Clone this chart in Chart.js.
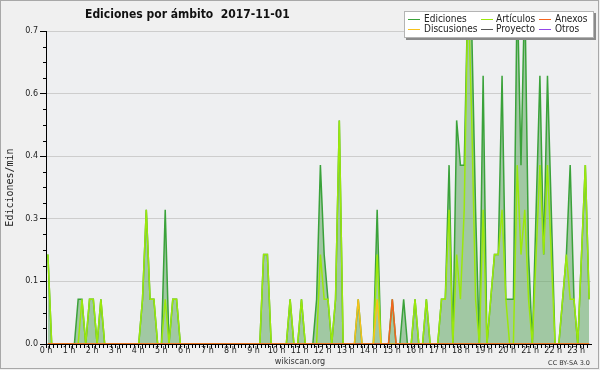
<!DOCTYPE html>
<html>
<head>
<meta charset="utf-8">
<title>Ediciones por ámbito 2017-11-01</title>
<script src="https://cdn.jsdelivr.net/npm/chart.js@4.4.1/dist/chart.umd.min.js"></script>
<style>
    html, body { margin: 0; padding: 0; background: #f0f0f0; }
    #wrap { width: 600px; height: 370px; }
</style>
</head>
<body>
<div id="wrap"><canvas id="myChart" width="600" height="370"></canvas></div>
<script>
// franjas de 10 minutos (minuto de inicio)
const slots = [];
for (let m = 0; m < 24 * 60; m += 10) slots.push(m);

const hourLabels = ['0 h', '1 h', '2 h', '3 h', '4 h', '5 h', '6 h', '7 h', '8 h', '9 h', '10 h', '11 h',
    '12 h', '13 h', '14 h', '15 h', '16 h', '17 h', '18 h', '19 h', '20 h', '21 h', '22 h', '23 h'];
const yTickValues = [0, 0.14, 0.28, 0.42, 0.56, 0.7];
const yTickLabels = ['0.0', '0.1', '0.3', '0.4', '0.6', '0.7'];

const chartTitle = 'Ediciones por ámbito  2017-11-01';
const yTitle = 'Ediciones/min';

// ediciones por minuto, una fila = 2 horas
const ediciones = [
    0.2, 0, 0, 0, 0, 0, 0, 0, 0.1, 0.1, 0, 0.1,
    0.1, 0, 0.1, 0, 0, 0, 0, 0, 0, 0, 0, 0,
    0, 0.1, 0.3, 0.1, 0.1, 0, 0, 0.3, 0, 0.1, 0.1, 0,
    0, 0, 0, 0, 0, 0, 0, 0, 0, 0, 0, 0,
    0, 0, 0, 0, 0, 0, 0, 0, 0, 0.2, 0.2, 0,
    0, 0, 0, 0, 0.1, 0, 0, 0.1, 0, 0, 0, 0.1,
    0.4, 0.2, 0.1, 0, 0.1, 0.5, 0, 0, 0, 0, 0.1, 0,
    0, 0, 0, 0.3, 0, 0, 0, 0.1, 0, 0, 0.1, 0,
    0, 0.1, 0, 0, 0.1, 0, 0, 0, 0.1, 0.1, 0.4, 0,
    0.5, 0.4, 0.4, 0.8, 0.7, 0.3, 0, 0.6, 0, 0.1, 0.2, 0.2,
    0.6, 0.1, 0.1, 0.1, 0.8, 0.4, 0.8, 0.2, 0, 0.3, 0.6, 0.2,
    0.6, 0.3, 0, 0, 0.1, 0.2, 0.4, 0.1, 0, 0.2, 0.4, 0.1
];
const articulos = [
    0.2, 0, 0, 0, 0, 0, 0, 0, 0, 0.1, 0, 0.1,
    0.1, 0, 0.1, 0, 0, 0, 0, 0, 0, 0, 0, 0,
    0, 0.1, 0.3, 0.1, 0.1, 0, 0, 0.1, 0, 0.1, 0.1, 0,
    0, 0, 0, 0, 0, 0, 0, 0, 0, 0, 0, 0,
    0, 0, 0, 0, 0, 0, 0, 0, 0, 0.2, 0.2, 0,
    0, 0, 0, 0, 0.1, 0, 0, 0.1, 0, 0, 0, 0,
    0.2, 0.1, 0.1, 0, 0.1, 0.5, 0, 0, 0, 0, 0, 0,
    0, 0, 0, 0.2, 0, 0, 0, 0, 0, 0, 0, 0,
    0, 0.1, 0, 0, 0.1, 0, 0, 0, 0.1, 0.1, 0.3, 0,
    0.2, 0.1, 0.3, 0.8, 0.5, 0.1, 0, 0.3, 0, 0.1, 0.2, 0.2,
    0.3, 0.1, 0, 0, 0.4, 0.2, 0.3, 0.1, 0, 0.2, 0.4, 0.2,
    0.4, 0.2, 0, 0, 0.1, 0.2, 0.1, 0.1, 0, 0.2, 0.4, 0.1
];
const anexos = [
    0, 0, 0, 0, 0, 0, 0, 0, 0, 0, 0, 0,
    0, 0, 0, 0, 0, 0, 0, 0, 0, 0, 0, 0,
    0, 0, 0, 0, 0, 0, 0, 0, 0, 0, 0, 0,
    0, 0, 0, 0, 0, 0, 0, 0, 0, 0, 0, 0,
    0, 0, 0, 0, 0, 0, 0, 0, 0, 0, 0, 0,
    0, 0, 0, 0, 0, 0, 0, 0, 0, 0, 0, 0,
    0, 0, 0, 0, 0, 0, 0, 0, 0, 0, 0, 0,
    0, 0, 0, 0, 0, 0, 0, 0.1, 0, 0, 0, 0,
    0, 0, 0, 0, 0, 0, 0, 0, 0, 0, 0, 0,
    0, 0, 0, 0, 0, 0, 0, 0, 0, 0, 0, 0,
    0, 0, 0, 0, 0, 0, 0, 0, 0, 0, 0, 0,
    0, 0, 0, 0, 0, 0, 0, 0, 0, 0, 0, 0
];
const discusiones = [
    0, 0, 0, 0, 0, 0, 0, 0, 0, 0, 0, 0,
    0, 0, 0, 0, 0, 0, 0, 0, 0, 0, 0, 0,
    0, 0, 0, 0, 0, 0, 0, 0, 0, 0, 0, 0,
    0, 0, 0, 0, 0, 0, 0, 0, 0, 0, 0, 0,
    0, 0, 0, 0, 0, 0, 0, 0, 0, 0, 0, 0,
    0, 0, 0, 0, 0, 0, 0, 0, 0, 0, 0, 0,
    0, 0, 0, 0, 0, 0, 0, 0, 0, 0, 0.1, 0,
    0, 0, 0, 0.1, 0, 0, 0, 0, 0, 0, 0, 0,
    0, 0, 0, 0, 0, 0, 0, 0, 0, 0, 0, 0,
    0, 0, 0, 0, 0, 0, 0, 0, 0, 0, 0, 0,
    0, 0, 0, 0, 0, 0, 0, 0, 0, 0, 0, 0,
    0, 0, 0, 0, 0, 0, 0, 0, 0, 0, 0, 0
];
const proyecto = [
    0, 0, 0, 0, 0, 0, 0, 0, 0, 0, 0, 0,
    0, 0, 0, 0, 0, 0, 0, 0, 0, 0, 0, 0,
    0, 0, 0, 0, 0, 0, 0, 0, 0, 0, 0, 0,
    0, 0, 0, 0, 0, 0, 0, 0, 0, 0, 0, 0,
    0, 0, 0, 0, 0, 0, 0, 0, 0, 0, 0, 0,
    0, 0, 0, 0, 0, 0, 0, 0, 0, 0, 0, 0,
    0, 0, 0, 0, 0, 0, 0, 0, 0, 0, 0, 0,
    0, 0, 0, 0, 0, 0, 0, 0, 0, 0, 0, 0,
    0, 0, 0, 0, 0, 0, 0, 0, 0, 0, 0, 0,
    0, 0, 0, 0, 0, 0, 0, 0, 0, 0, 0, 0,
    0, 0, 0, 0, 0, 0, 0, 0, 0, 0, 0, 0,
    0, 0, 0, 0, 0, 0, 0, 0, 0, 0, 0, 0
];
const otros = [
    0, 0, 0, 0, 0, 0, 0, 0, 0, 0, 0, 0,
    0, 0, 0, 0, 0, 0, 0, 0, 0, 0, 0, 0,
    0, 0, 0, 0, 0, 0, 0, 0, 0, 0, 0, 0,
    0, 0, 0, 0, 0, 0, 0, 0, 0, 0, 0, 0,
    0, 0, 0, 0, 0, 0, 0, 0, 0, 0, 0, 0,
    0, 0, 0, 0, 0, 0, 0, 0, 0, 0, 0, 0,
    0, 0, 0, 0, 0, 0, 0, 0, 0, 0, 0, 0,
    0, 0, 0, 0, 0, 0, 0, 0, 0, 0, 0, 0,
    0, 0, 0, 0, 0, 0, 0, 0, 0, 0, 0, 0,
    0, 0, 0, 0, 0, 0, 0, 0, 0, 0, 0, 0,
    0, 0, 0, 0, 0, 0, 0, 0, 0, 0, 0, 0,
    0, 0, 0, 0, 0, 0, 0, 0, 0, 0, 0, 0
];

// punto en el centro de cada franja, en horas
function toPoints(values) {
    return values.map(function (v, i) {
        return { x: (slots[i] + 5) / 60, y: v };
    });
}

function lineSet(label, values, color, order) {
    return {
        label: label,
        data: toPoints(values),
        xAxisID: 'x',
        borderColor: color,
        backgroundColor: color,
        borderWidth: 1.5,
        pointRadius: 0,
        tension: 0,
        fill: false,
        order: order
    };
}

const datasets = [
    lineSet('Ediciones', ediciones, '#3aa23a', 6),
    lineSet('Artículos', articulos, '#9be80c', 5),
    lineSet('Anexos', anexos, '#f5641e', 1),
    lineSet('Discusiones', discusiones, '#f7c21b', 2),
    lineSet('Proyecto', proyecto, '#555555', 3),
    lineSet('Otros', otros, '#9446e8', 4)
];
// el total va relleno
datasets[0].fill = 'origin';
datasets[0].backgroundColor = 'rgba(98, 168, 98, 0.55)';

const FONT = '"DejaVu Sans Condensed", "DejaVu Sans", sans-serif';

// fondo, titulo, leyenda y textos del pie
const decor = {
    id: 'decor',
    beforeDraw: function (chart) {
        const c = chart.ctx;
        const a = chart.chartArea;
        c.save();
        c.fillStyle = '#f0f0f0';
        c.fillRect(0, 0, chart.width, chart.height);
        c.strokeStyle = '#a8a8a8';
        c.lineWidth = 1;
        c.strokeRect(0.5, 0.5, 598, 368);
        c.fillStyle = '#eeeff1';
        c.fillRect(a.left, a.top, a.right - a.left, a.bottom - a.top);
        c.restore();
    },
    afterDraw: function (chart) {
        const c = chart.ctx;
        const a = chart.chartArea;
        const ys = chart.scales.y;
        c.save();

        // marcas menores del eje y
        c.strokeStyle = '#000';
        c.lineWidth = 1;
        const minorStep = yTickValues[1] / 4;
        for (let k = 0; k * minorStep <= ys.max + 1e-9; k++) {
            if (k % 4 == 0) continue;
            const py = Math.round(ys.getPixelForValue(k * minorStep)) + 0.5;
            c.beginPath();
            c.moveTo(a.left - 3, py);
            c.lineTo(a.left, py);
            c.stroke();
        }

        // titulo
        c.fillStyle = '#111';
        c.font = 'bold 12px ' + FONT;
        c.textAlign = 'left';
        c.textBaseline = 'alphabetic';
        c.fillText(chartTitle, 85, 18);

        // leyenda
        c.fillStyle = '#8a8a8a';
        c.fillRect(406, 13, 190, 27);
        c.fillStyle = '#ffffff';
        c.fillRect(404, 11, 190, 27);
        c.strokeStyle = '#b4b4b4';
        c.strokeRect(404.5, 11.5, 189, 26);
        const lineX = [408, 481, 539];
        const textX = [424, 496, 555];
        const rowY = [19.5, 29.5];
        c.font = '10px ' + FONT;
        c.textBaseline = 'middle';
        chart.data.datasets.forEach(function (ds, k) {
            const col = k % 3;
            const row = Math.floor(k / 3);
            c.strokeStyle = ds.borderColor;
            c.lineWidth = 1;
            c.beginPath();
            c.moveTo(lineX[col], rowY[row]);
            c.lineTo(lineX[col] + 12, rowY[row]);
            c.stroke();
            c.fillStyle = '#222';
            c.fillText(ds.label, textX[col], rowY[row] - 0.5);
        });

        // pie
        c.fillStyle = '#333';
        c.font = '9px ' + FONT;
        c.textAlign = 'center';
        c.textBaseline = 'alphabetic';
        c.fillText('wikiscan.org', 300, 364);
        c.font = '6.5px "DejaVu Sans", sans-serif';
        c.textAlign = 'right';
        c.fillText('CC BY-SA 3.0', 590, 365);
        c.restore();
    }
};

const ctx = document.getElementById('myChart').getContext('2d');

// el eje de horas del original va algo mas ancho que el de los datos
const hourAxisMax = 23.64;

const options = {
    responsive: false,
    animation: false,
    layout: { padding: { top: 31, right: 9, bottom: 0, left: 0 } },
    plugins: {
        legend: { display: false },
        tooltip: { enabled: false }
    },
    scales: {
        x: {
            type: 'linear',
            min: 0,
            max: 24,
            display: false
        },
        xh: {
            type: 'linear',
            axis: 'x',
            position: 'bottom',
            min: 0,
            max: hourAxisMax,
            z: 1,
            afterBuildTicks: function (s) {
                const t = [];
                for (let k = 0; k / 6 <= hourAxisMax; k++) t.push({ value: k / 6 });
                s.ticks = t;
            },
            afterFit: function (s) { s.height = 26; },
            border: { display: true, color: '#000', width: 1 },
            grid: { drawOnChartArea: false, drawTicks: true, tickLength: 4, tickColor: '#000' },
            ticks: {
                autoSkip: false,
                maxRotation: 0,
                minRotation: 0,
                padding: -2,
                color: '#222',
                font: { family: 'DejaVu Sans', size: 8 },
                callback: function (value, index) {
                    if (index % 6 == 0 && index / 6 < hourLabels.length) return hourLabels[index / 6];
                    return '';
                }
            }
        },
        y: {
            min: 0,
            max: 0.7,
            afterBuildTicks: function (s) {
                s.ticks = yTickValues.map(function (v) { return { value: v }; });
            },
            afterFit: function (s) { s.width = 46; },
            border: { display: true, color: '#000', width: 1 },
            grid: { color: '#cdcdcd', lineWidth: 1, drawTicks: true, tickLength: 6, tickColor: '#000' },
            ticks: {
                padding: 2,
                color: '#222',
                font: { family: 'DejaVu Sans', size: 8 },
                callback: function (value, index) {
                    return yTickLabels[index];
                }
            },
            title: {
                display: true,
                text: yTitle,
                color: '#222',
                font: { family: 'DejaVu Sans Mono', size: 10 },
                padding: { top: 4, bottom: 0 }
            }
        }
    }
};

const myChart = new Chart(ctx, {
    type: 'line',
    data: { datasets: datasets },
    options: options,
    plugins: [decor]
});
</script>
</body>
</html>
